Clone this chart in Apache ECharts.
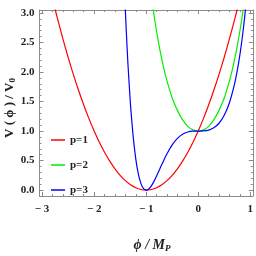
<!DOCTYPE html>
<html>
<head>
<meta charset="utf-8">
<script src="https://cdn.jsdelivr.net/npm/echarts@6/dist/echarts.min.js"></script>
<style>html,body{margin:0;padding:0;background:#fff}#c{width:256px;height:256px}</style>
</head>
<body>
<div id="c"></div>
<script>
// Values
var seriesNames = ['p=1', 'p=2', 'p=3'];
var seriesColors = ['#ff0000', '#00ee00', '#0000ff'];
var redPts = [[-2.8,3.24],[-2.7,2.89],[-2.6,2.56],[-2.5,2.25],[-2.4,1.96],[-2.3,1.69],[-2.2,1.44],[-2.1,1.21],[-2.0,1.0],[-1.9,0.81],[-1.8,0.64],[-1.7,0.49],[-1.6,0.36],[-1.5,0.25],[-1.4,0.16],[-1.3,0.09],[-1.2,0.04],[-1.1,0.01],[-1.0,0],[-0.9,0.01],[-0.8,0.04],[-0.7,0.09],[-0.6,0.16],[-0.5,0.25],[-0.4,0.36],[-0.3,0.49],[-0.2,0.64],[-0.1,0.81],[0,1.0],[0.1,1.21],[0.2,1.44],[0.3,1.69],[0.4,1.96],[0.5,2.25],[0.6,2.56],[0.7,2.89],[0.8,3.24]];
var greenPts = [[-0.9,3.28],[-0.85,2.97],[-0.8,2.69],[-0.75,2.44],[-0.7,2.22],[-0.65,2.02],[-0.6,1.85],[-0.5,1.56],[-0.4,1.35],[-0.3,1.19],[-0.2,1.08],[-0.1,1.02],[0,1.0],[0.1,1.02],[0.2,1.08],[0.3,1.19],[0.4,1.35],[0.5,1.56],[0.6,1.85],[0.65,2.02],[0.7,2.22],[0.75,2.44],[0.8,2.69],[0.85,2.97],[0.9,3.28]];
var bluePts = [[-1.42,3.4],[-1.4,3.04],[-1.38,2.65],[-1.35,2.13],[-1.32,1.7],[-1.3,1.43],[-1.25,0.91],[-1.2,0.53],[-1.15,0.27],[-1.1,0.11],[-1.05,0.025],[-1.0,0],[-0.95,0.02],[-0.9,0.073],[-0.85,0.148],[-0.8,0.238],[-0.7,0.432],[-0.6,0.615],[-0.5,0.766],[-0.4,0.876],[-0.3,0.947],[-0.2,0.984],[-0.1,0.998],[0,1.0],[0.1,1.002],[0.2,1.016],[0.3,1.055],[0.4,1.132],[0.5,1.266],[0.6,1.479],[0.7,1.804],[0.75,2.022],[0.8,2.286],[0.85,2.605],[0.9,2.989],[0.95,3.45]];
var xMajor = [-3, -2, -1, 0, 1];
var xMinor = [-3,-2.8,-2.6,-2.4,-2.2,-2,-1.8,-1.6,-1.4,-1.2,-1,-0.8,-0.6,-0.4,-0.2,0,0.2,0.4,0.6,0.8,1];
var yMajor = [0, 0.5, 1, 1.5, 2, 2.5, 3];
var yMinor = [0,0.1,0.2,0.3,0.4,0.5,0.6,0.7,0.8,0.9,1,1.1,1.2,1.3,1.4,1.5,1.6,1.7,1.8,1.9,2,2.1,2.2,2.3,2.4,2.5,2.6,2.7,2.8,2.9,3];

var frame = '#8a8a8a';
var labelFont = {fontFamily: 'Liberation Serif', fontWeight: 'bold', fontSize: 11, color: '#222'};
function xAx(pos, vals, len, labels, line) {
  return {
    type: 'value', min: -3.05, max: 1.05, position: pos,
    axisLine: {show: line, onZero: false, lineStyle: {color: frame, width: 1}},
    axisTick: {show: true, inside: true, length: len, customValues: vals, lineStyle: {color: frame}},
    axisLabel: labels ? Object.assign({show: true, margin: 8, customValues: xMajor,
      formatter: function (v) { return v < 0 ? '\u2212 ' + Math.abs(v) : String(v); }}, labelFont) : {show: false},
    splitLine: {show: false}
  };
}
function yAx(pos, vals, len, labels, line) {
  return {
    type: 'value', min: -0.1, max: 3.05, position: pos,
    axisLine: {show: line, onZero: false, lineStyle: {color: frame, width: 1}},
    axisTick: {show: true, inside: true, length: len, customValues: vals, lineStyle: {color: frame}},
    axisLabel: labels ? Object.assign({show: true, margin: 5, customValues: yMajor,
      formatter: function (v) { return v.toFixed(1); }}, labelFont) : {show: false},
    splitLine: {show: false}
  };
}
var pts = [redPts, greenPts, bluePts];
var chart = echarts.init(document.getElementById('c'), null, {renderer: 'canvas'});
chart.setOption({
  animation: false,
  backgroundColor: '#fff',
  grid: {left: 39.5, right: 2, top: 10, bottom: 60, containLabel: false},
  xAxis: [xAx('bottom', xMajor, 4, true, true), xAx('bottom', xMinor, 2, false, false),
          xAx('top', xMajor, 4, false, true), xAx('top', xMinor, 2, false, false)],
  yAxis: [yAx('left', yMajor, 4, true, true), yAx('left', yMinor, 2, false, false),
          yAx('right', yMajor, 4, false, true), yAx('right', yMinor, 2, false, false)],
  legend: {
    orient: 'vertical', left: 46, top: 129, itemGap: 13,
    icon: 'rect', itemWidth: 14, itemHeight: 1.5,
    textStyle: {fontFamily: 'Liberation Serif', fontWeight: 'bold', fontSize: 11, color: '#222', lineHeight: 12},
    data: seriesNames
  },
  series: seriesNames.map(function (n, i) {
    return {
      name: n, type: 'line', xAxisIndex: 0, yAxisIndex: 0, data: pts[i],
      showSymbol: false, smooth: 0.3, clip: true,
      lineStyle: {color: seriesColors[i], width: 1.2}, itemStyle: {color: seriesColors[i]}
    };
  }),
  graphic: [
    {type: 'text', x: 10, y: 108, rotation: Math.PI / 2,
     style: {text: '{a|V ( ϕ ) / V}{b|0}', align: 'center', verticalAlign: 'middle',
       rich: {a: {fontFamily: 'Liberation Serif', fontWeight: 'bold', fontSize: 13, fill: '#222'},
              b: {fontFamily: 'Liberation Serif', fontWeight: 'bold', fontSize: 9, fill: '#222', padding: [6, 0, 0, 0]}}}},
    {type: 'text', x: 152, y: 245,
     style: {text: '{a|ϕ / M}{b|P}', align: 'center', verticalAlign: 'middle',
       rich: {a: {fontFamily: 'Liberation Serif', fontStyle: 'italic', fontWeight: 'bold', fontSize: 14, fill: '#222'},
              b: {fontFamily: 'Liberation Serif', fontStyle: 'italic', fontWeight: 'bold', fontSize: 9, fill: '#222', padding: [7, 0, 0, 0]}}}}
  ]
});
</script>
</body>
</html>
